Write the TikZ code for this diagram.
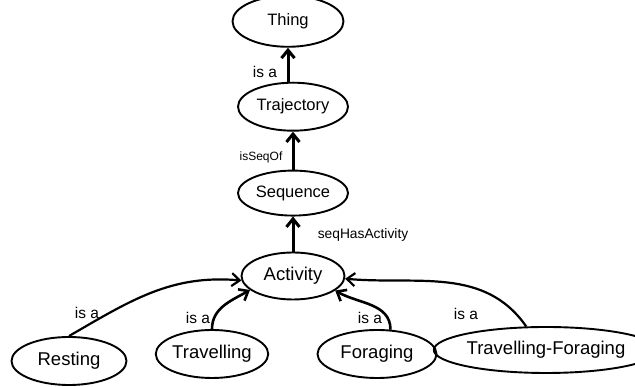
\documentclass[tikz,border=0pt]{standalone}
\usepackage{fontspec}
\setmainfont{Liberation Sans}
\usetikzlibrary{positioning,arrows.meta,shapes.geometric}
\tikzset{ %
  ,>={Straight Barb[length=8pt,width=13pt]}
  ,concept/.style={draw, ellipse, line width=1.9pt, inner sep=0, minimum width=110pt, minimum height=48pt, font=\fontsize{16.5}{18}\selectfont}
  ,leaf/.style={concept, font=\fontsize{18.5}{20}\selectfont}
  ,rel/.style={inner sep=0, font=\fontsize{15.5}{17}\selectfont}
  ,isa/.style={->, line width=3pt}
}

\begin{document}
\begin{tikzpicture}[x=1pt,y=1pt]
      \useasboundingbox (0,0) rectangle (635,387);
      \draw 
      node[leaf, minimum width=103pt, minimum height=47pt] (Act) at (293,111) {Activity}
      node[concept, minimum height=45pt, above=35pt of Act] (Seq) {Sequence}
      node[concept, above=38pt of Seq] (Traj) {Trajectory}
      node[concept, minimum width=111pt, minimum height=51pt, above=34pt of Traj, xshift=-5pt] (Thing) {Thing}
      node[leaf, minimum width=115pt] (Rest) at (69,26) {Resting}
      node[leaf] (Trav) at (212,33) {Travelling}
      node[leaf, minimum width=119pt] (Forag) at (377,33) {Foraging}
      node[leaf, minimum width=178pt, minimum height=46pt] (TrFo) at (546,37) {Travelling-Foraging};
      \draw 
      node[rel] (l1) at (265,315) {is a}
      node[rel, font=\fontsize{12}{13}\selectfont] (l2) at (261,230) {isSeqOf}
      node[rel, font=\fontsize{13.8}{15}\selectfont] (l3) at (363,152) {seqHasActivity}
      node[rel] (l4) at (87,74) {is a}
      node[rel] (l5) at (198,69) {is a}
      node[rel] (l6) at (370,69) {is a}
      node[rel] (l7) at (466,73) {is a};
      \draw [isa] (Traj.north -| Thing.south) -- (Thing.south);
      \draw [isa] (Seq) -- (Traj);
      \draw [isa] (Act) -- (Seq);
      \draw [isa, line width=2.2pt] (Rest.north) to[out=30, in=175] (Act.185);
      \draw [isa, line width=2.6pt] (Trav.north) to[out=90, in=210] (Act.198);
      \draw [isa, line width=2.6pt] (Forag.61) to[out=90, in=-30] (Act.-19);
      \draw [isa, line width=2.2pt] (TrFo.130) to[out=125, in=-5] (Act.-3);
    \end{tikzpicture}
\end{document}
